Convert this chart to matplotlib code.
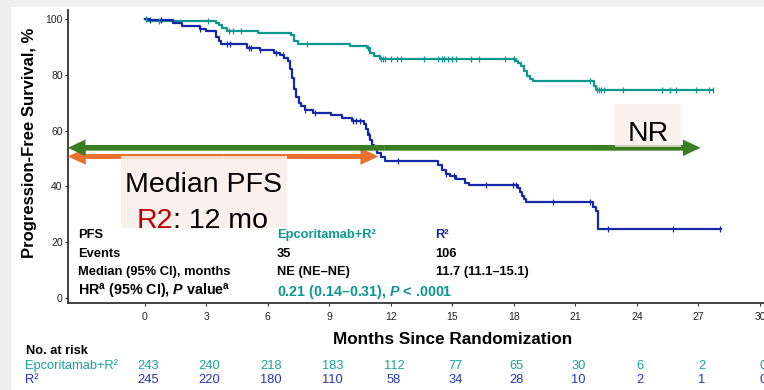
import matplotlib
matplotlib.use("Agg")
import matplotlib.pyplot as plt
import numpy as np
from matplotlib import font_manager
from matplotlib.patches import Rectangle, FancyArrowPatch
from matplotlib.transforms import blended_transform_factory

plt.rcParams['font.family'] = ['Liberation Sans', 'DejaVu Sans']
plt.rcParams['mathtext.fontset'] = 'custom'
plt.rcParams['mathtext.rm'] = 'Liberation Sans'
plt.rcParams['mathtext.bf'] = 'Liberation Sans:bold'
plt.rcParams['mathtext.it'] = 'Liberation Sans:italic'
plt.rcParams['mathtext.bfit'] = 'Liberation Sans:italic:bold'

# Kaplan-Meier steps (months, % progression-free)
epco_t = [0, 0.1, 3.5, 3.6, 3.75, 4.0, 5.5, 7.15, 7.3, 7.45, 10.0, 10.85, 11.0, 11.2, 11.45,
          18.1, 18.2, 18.35, 18.5, 18.65, 18.8, 18.95, 21.9, 22.0, 27.7]
epco_s = [100, 99.5, 98.8, 98.0, 96.8, 95.6, 95.0, 94.2, 92.1, 91.2, 90.5, 89.7, 87.9, 86.7, 85.7,
          84.9, 84.3, 83.1, 81.3, 79.5, 78.5, 77.7, 76.0, 74.6, 74.6]
epco_cens = [0.05, 0.7, 3.1, 4.1, 4.3, 4.7, 7.9, 10.9, 11.5, 11.6, 11.7, 12.0, 12.3, 12.5, 13.6,
             14.3, 14.5, 14.6, 14.8, 15.0, 15.2, 15.9, 16.3, 17.55, 18.0, 21.7, 22.05, 22.15,
             22.25, 22.4, 23.3, 25.2, 25.6, 25.9, 26.9, 27.5, 27.7]

r2_t = [0, 0.2, 1.4, 1.8, 2.7, 3.0, 3.5, 3.6, 3.7, 5.0, 5.6, 6.3, 6.6, 6.8, 7.0, 7.1, 7.2, 7.3,
        7.4, 7.5, 7.6, 7.8, 8.2, 9.1, 9.6, 10.1, 10.7, 10.8, 10.9, 11.0, 11.1, 11.2, 11.35, 11.5,
        11.7, 14.3, 14.5, 14.7, 14.9, 15.2, 15.6, 15.8, 18.2, 18.3, 18.4, 18.5, 18.6, 21.85, 22.0,
        22.1, 28.1]
r2_s = [100, 99.6, 98.5, 97.5, 96.3, 95.6, 93.5, 92.0, 91.0, 89.7, 89.0, 88.0, 87.0, 86.0, 85.0,
        82.0, 79.0, 75.0, 72.0, 70.0, 68.7, 67.5, 66.3, 65.7, 64.6, 63.4, 62.4, 60.5, 58.5, 56.5,
        54.9, 53.2, 51.9, 50.5, 48.9, 47.5, 46.0, 44.5, 43.5, 42.5, 41.2, 40.5, 39.5, 38.0, 36.5,
        35.3, 34.2, 32.5, 31.0, 24.6, 24.6]
r2_cens = [0.25, 0.8, 2.7, 4.0, 4.15, 5.1, 5.2, 5.6, 6.4, 6.75, 7.8, 8.3, 10.15, 10.3, 10.5,
           10.95, 12.35, 14.7, 15.07, 16.66, 17.95, 18.1, 19.9, 21.7, 22.6, 25.75, 28.07]

risk_times = [0, 3, 6, 9, 12, 15, 18, 21, 24, 27, 30]
risk_epco = [243, 240, 218, 183, 112, 77, 65, 30, 6, 2, 0]
risk_r2 = [245, 220, 180, 110, 58, 34, 28, 10, 2, 1, 0]

median_r2 = 11.4      # end of the orange arrow
nr_end = 27.1         # end of the green arrow

TEAL = '#0c9890'
BLUE = '#1428a8'
TEAL_T = '#1aa39b'
BLUE_T = '#2436bb'
GREEN = '#3a7d22'
ORANGE = '#e9702e'
PEACH = '#fbeee8'

W, H = 764, 390

# table font: condensed if we have it
try:
    font_manager.findfont('Liberation Sans Narrow', fallback_to_default=False)
    TFONT, TFS, HRFS = ['Liberation Sans Narrow', 'Liberation Sans'], 10.9, 11.8
except ValueError:
    TFONT, TFS, HRFS = ['Liberation Sans', 'DejaVu Sans'], 9.3, 10.3


def px(x, y):
    return x / W, 1 - y / H


fig = plt.figure(figsize=(W / 100, H / 100), dpi=100)
fig.patch.set_facecolor('#efefef')
fig.add_artist(Rectangle(px(11, 390), (W - 11) / W, (390 - 7.3) / H,
                         transform=fig.transFigure, facecolor='white', edgecolor='none', zorder=-10))

x0, x1 = -3.75, 31.0
y0, y1 = -2.05, 103.3
left, right = 67.8, 144.7 + 31 * 20.51
top, bottom = 10.0, 303.3
ax = fig.add_axes([left / W, 1 - bottom / H, (right - left) / W, (bottom - top) / H])
ax.patch.set_visible(False)
ax.set_xlim(x0, x1)
ax.set_ylim(y0, y1)
for s in ['top', 'right']:
    ax.spines[s].set_visible(False)
for s in ['left', 'bottom']:
    ax.spines[s].set_color('#333333')
    ax.spines[s].set_linewidth(1.3)
ax.set_xticks(risk_times)
ax.set_yticks([0, 20, 40, 60, 80, 100])
ax.tick_params(axis='both', direction='out', length=2.5, width=0.8, colors='#333333',
               labelsize=7.5, labelcolor='#222222')
ax.tick_params(axis='y', pad=1.2)
ax.tick_params(axis='x', pad=3.5)


def km(times, surv, cens, color):
    ax.step(times, surv, where='post', color=color, lw=1.6, zorder=2.5)
    t = np.array(times)
    s = np.array(surv)
    cy = s[np.searchsorted(t, cens, side='right') - 1]
    ax.plot(cens, cy, ls='none', marker='|', ms=4.5, mew=0.9, color=color, zorder=2.6)


km(epco_t, epco_s, epco_cens, TEAL)
km(r2_t, r2_s, r2_cens, BLUE)


def arrow2(xa, xb, y, color, tail, hw, hl, z):
    mid = (xa + xb) / 2
    style = 'simple,head_length=%g,head_width=%g,tail_width=%g' % (hl, hw, tail)
    for end in (xa, xb):
        a = FancyArrowPatch((mid, y), (end, y), arrowstyle=style, mutation_scale=1,
                            shrinkA=0, shrinkB=0, color=color, lw=0, zorder=z, clip_on=False)
        ax.add_patch(a)


arrow2(x0, median_r2, 50.7, ORANGE, 3.6, 12.0, 13.0, 3)
arrow2(x0, nr_end, 53.8, GREEN, 4.1, 12.0, 12.7, 5)

# annotation boxes
bx, by = px(121, 228.3)
ax.add_patch(Rectangle((bx, by), (286.7 - 121) / W, (228.3 - 155.7) / H, transform=fig.transFigure,
                       facecolor=PEACH, edgecolor='none', alpha=0.85, zorder=4, clip_on=False))
ax.text(*px(203.5, 192), 'Median PFS', transform=fig.transFigure, ha='center', va='baseline',
        fontsize=20.5, color='black', zorder=6)
ax.text(*px(173.1, 227.5), 'R2', transform=fig.transFigure, ha='right', va='baseline',
        fontsize=20.5, color='#c00000', zorder=6)
ax.text(*px(173.1, 227.5), ': 12 mo', transform=fig.transFigure, ha='left', va='baseline',
        fontsize=20.5, color='black', zorder=6)

nx, ny = px(615, 147.3)
ax.add_patch(Rectangle((nx, ny), (681 - 615) / W, (147.3 - 104) / H, transform=fig.transFigure,
                       facecolor=PEACH, edgecolor='none', alpha=0.75, zorder=6, clip_on=False))
ax.text(*px(648.6, 140.7), 'NR', transform=fig.transFigure, ha='center', va='baseline',
        fontsize=20.5, color='black', zorder=7)

# summary table
rows = [238.3, 256.7, 275.0, 296.0]
c1, c2, c3 = 78.3, 276.7, 435.5
col1 = ['PFS', 'Events', 'Median (95% CI), months']
for yy, txt in zip(rows[:3], col1):
    fig.text(*px(c1, yy), txt, fontsize=TFS, family=TFONT, fontweight='bold', va='baseline')
fig.text(*px(c1, rows[3]), r'HR$^{\mathbf{a}}$ (95% CI), $\mathbfit{P}$ value$^{\mathbf{a}}$',
         fontsize=HRFS, family=TFONT, fontweight='bold', va='baseline')
fig.text(*px(c2, rows[0]), 'Epcoritamab+R²', fontsize=TFS, family=TFONT, fontweight='bold',
         color=TEAL, va='baseline')
fig.text(*px(c2, rows[1]), '35', fontsize=TFS, family=TFONT, fontweight='bold', va='baseline')
fig.text(*px(c2, rows[2]), 'NE (NE–NE)', fontsize=TFS, family=TFONT, fontweight='bold', va='baseline')
fig.text(*px(c2, rows[3]), r'0.21 (0.14–0.31), $\mathbfit{P}$ < .0001', fontsize=HRFS, family=TFONT,
         fontweight='bold', color=TEAL, va='baseline')
fig.text(*px(c3, rows[0]), 'R²', fontsize=TFS, family=TFONT, fontweight='bold', color=BLUE,
         va='baseline')
fig.text(*px(c3, rows[1]), '106', fontsize=TFS, family=TFONT, fontweight='bold', va='baseline')
fig.text(*px(c3, rows[2]), '11.7 (11.1–15.1)', fontsize=TFS, family=TFONT, fontweight='bold',
         va='baseline')

# axis labels
fig.text(*px(452.8, 344.3), 'Months Since Randomization', fontsize=12.3, fontweight='bold',
         ha='center', va='baseline')
fig.text(*px(29.5, 143), 'Progression-Free Survival, %', fontsize=12, fontweight='bold',
         rotation=90, ha='center', va='center')

# number at risk
fig.text(*px(26, 354), 'No. at risk', fontsize=9.2, fontweight='bold', va='baseline')
fig.text(*px(25, 369.3), 'Epcoritamab+R²', fontsize=9.3, color=TEAL_T, va='baseline')
fig.text(*px(25, 383.3), 'R²', fontsize=9.3, color=BLUE_T, va='baseline')
trans = blended_transform_factory(ax.transData, fig.transFigure)
for t, a, b in zip(risk_times, risk_epco, risk_r2):
    ax.text(t + 0.15, px(0, 369.3)[1], str(a), transform=trans, fontsize=9.3, color=TEAL_T,
            ha='center', va='baseline', clip_on=False)
    ax.text(t + 0.15, px(0, 383.3)[1], str(b), transform=trans, fontsize=9.3, color=BLUE_T,
            ha='center', va='baseline', clip_on=False)

fig.savefig('out.png', dpi=100, facecolor=fig.get_facecolor())
